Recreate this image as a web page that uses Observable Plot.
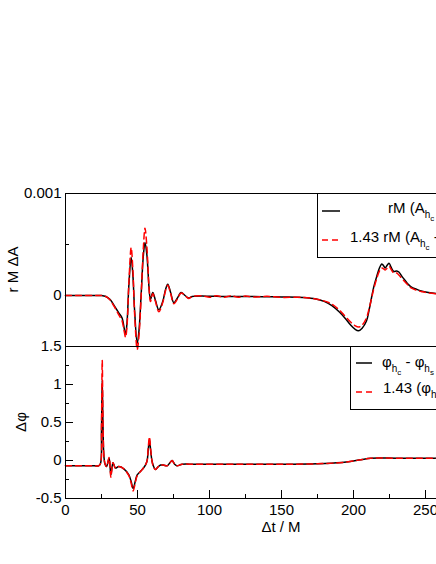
<!DOCTYPE html>
<html>
<head>
<meta charset="utf-8">
<script src="https://cdn.jsdelivr.net/npm/d3@7"></script>
<script src="https://cdn.jsdelivr.net/npm/@observablehq/plot@0.6"></script>
<style>
html, body { margin: 0; padding: 0; background: #fff; overflow: hidden; width: 436px; height: 564px; }
#chart { position: relative; width: 436px; height: 564px; overflow: hidden; }
#chart svg { position: absolute; left: 0; }
</style>
</head>
<body>
<div id="chart"></div>
<script>
// ---------- data ----------
// top panel: amplitude difference, values in units of 1e-4
const ampUnit = 1e-4;
const tA = [0,10,20,25,28,31,34.7,37,39.3,40.5,41.7,42.8,44,45.6,46.8,48,49.8,51,52.5,54,55.2,56.5,58,59,60.6,62.5,64.8,67.5,69.5,71,73,75.2,77.5,80.3,83,85.5,88,95,100,105,110,115,120,125,130,140,150,165,174,180,185,190,194,198,201,203.5,206,209,211,214,216,218,219.7,221,222,223.5,224.8,226,228,230,231.5,234,236,238,240,244,247,252,258,265,280,300];
const ampBlack = [0,0,0,0,-0.1,-0.4,-1.2,-1.7,-2.2,-3.0,-3.85,-2.5,1.0,3.75,2.0,-1.5,-4.7,-3.5,0.0,3.8,5.2,4.0,0.8,-0.4,0.3,-0.5,-1.4,-0.6,0.6,1.1,0.3,-0.7,-0.3,0.3,0,-0.25,-0.1,-0.05,-0.08,-0.08,-0.1,-0.1,-0.1,-0.1,-0.1,-0.12,-0.15,-0.2,-0.35,-0.6,-1.0,-1.6,-2.2,-2.9,-3.3,-3.45,-3.2,-2.5,-1.3,0.8,1.8,2.7,3.1,2.9,2.7,3.0,3.15,2.8,2.35,2.4,2.3,1.8,1.45,1.1,0.85,0.6,0.45,0.3,0.18,0.1,0.05,0];
const ampRed = [0,0,0,0,-0.1,-0.45,-1.3,-1.9,-2.5,-3.3,-4.1,-2.8,1.2,4.7,2.5,-1.8,-5.3,-4.0,-0.2,4.5,6.6,4.8,0.8,-0.6,0.2,-0.6,-1.6,-0.7,0.5,1.0,0.2,-0.8,-0.4,0.25,0,-0.3,-0.1,-0.02,-0.18,-0.02,-0.18,-0.03,-0.17,-0.05,-0.15,-0.08,-0.18,-0.18,-0.35,-0.55,-0.85,-1.4,-2.0,-2.6,-2.95,-3.1,-2.9,-2.2,-1.2,0.6,1.6,2.4,2.7,2.6,2.5,2.7,2.85,2.6,2.2,2.2,2.0,1.6,1.3,1.0,0.75,0.5,0.4,0.25,0.15,0.08,0.03,0];

// bottom panel: phase difference
const tP = [0,10,20,23,24.3,25,25.5,26,26.7,27.5,28.5,30.3,31.5,33,34.7,37,40.5,44,45.5,47,48.5,49.8,53.2,55.5,56.7,57.5,58.3,59.2,60,61,62.5,64,66,68,70.6,72.5,74,75.8,77.5,81,90,120,150,180,195,205,212,230,260,300];
const phiBlack = [-0.07,-0.07,-0.07,-0.07,-0.04,0.4,1.06,0.5,0.05,-0.05,-0.08,0.03,-0.19,-0.03,-0.1,-0.08,-0.11,-0.19,-0.27,-0.37,-0.27,-0.19,-0.12,-0.06,0.0,0.15,0.27,0.12,0.0,-0.07,-0.12,-0.09,-0.06,-0.06,-0.07,-0.03,0.0,-0.05,-0.07,-0.05,-0.05,-0.05,-0.05,-0.04,-0.02,0.01,0.03,0.03,0.03,0.03];
const phiRed = [-0.07,-0.07,-0.07,-0.07,-0.04,0.5,1.32,0.6,0.05,-0.05,-0.08,0.04,-0.22,-0.03,-0.1,-0.08,-0.11,-0.2,-0.29,-0.40,-0.29,-0.2,-0.12,-0.06,0.0,0.18,0.31,0.14,0.0,-0.08,-0.12,-0.09,-0.06,-0.06,-0.07,-0.03,0.0,-0.05,-0.07,-0.05,-0.05,-0.05,-0.05,-0.04,-0.02,0.01,0.03,0.03,0.03,0.03];

// ticks
const xMajor = [0,50,100,150,200,250,300];
const xMinor = [25,75,125,175,225,275];
const ampMajor = [0, 0.001];
const ampMinor = [-0.0005, 0.0005];
const phiMajor = [-0.5, 0, 0.5, 1, 1.5];
const phiMinor = [-0.25, 0.25, 0.75, 1.25];

// labels
const ampLabel = "r M ΔA";
const phiLabel = "Δφ";
const xLabel = "Δt / M";
const ampLegend = [
  [["rM (A",0],["h",1],["c",2],[" - A",0],["h",1],["s",2],[")",0]],
  [["1.43 rM (A",0],["h",1],["c",2],[" - A",0],["h",1],["s",2],[")",0]]
];
const phiLegend = [
  [["φ",0],["h",1],["c",2],[" - φ",0],["h",1],["s",2]],
  [["1.43 (φ",0],["h",1],["c",2],[" - φ",0],["h",1],["s",2],[")",0]]
];

// ---------- build ----------
const FONT = '"Liberation Sans", Arial, Helvetica, sans-serif';
const ampBlackData = tA.map((t, i) => ({t, v: ampBlack[i] * ampUnit}));
const ampRedData = tA.map((t, i) => ({t, v: ampRed[i] * ampUnit}));
const phiBlackData = tP.map((t, i) => ({t, v: phiBlack[i]}));
const phiRedData = tP.map((t, i) => ({t, v: phiRed[i]}));

const W = 520, ML = 65, MR = 23;
const frameW = W - ML - MR;
const fmt = d => String(d);
const blackLine = {x: "t", y: "v", stroke: "black", strokeWidth: 1.5, curve: "catmull-rom"};
const redLine = {x: "t", y: "v", stroke: "#ff0000", strokeWidth: 1.5, strokeDasharray: "6,4", curve: "catmull-rom"};
const style = {background: "transparent", fontFamily: FONT, fontSize: "15px", maxWidth: "none", overflow: "visible", color: "black"};

const topH = 346, topMT = 193;
const topPlot = Plot.plot({
  width: W, height: topH,
  marginTop: topMT, marginBottom: 0, marginLeft: ML, marginRight: MR,
  x: {domain: [0, 300], label: null, axis: null},
  y: {domain: [-0.0005, 0.001], label: null},
  style,
  marks: [
    Plot.tickY(ampMajor, {y: d => d, stroke: "black", insetRight: frameW - 8}),
    Plot.tickY(ampMinor, {y: d => d, stroke: "black", insetRight: frameW - 4}),
    Plot.axisY({ticks: ampMajor, tickSize: 0, tickPadding: 4, tickFormat: fmt, label: null}),
    Plot.line(ampBlackData, blackLine),
    Plot.line(ampRedData, redLine),
    Plot.frame({stroke: "black"})
  ]
});

const botTop = 336, botH = 564 - botTop, botMT = 10, botMB = 66;
const frameH = botH - botMT - botMB;
const botPlot = Plot.plot({
  width: W, height: botH,
  marginTop: botMT, marginBottom: botMB, marginLeft: ML, marginRight: MR,
  x: {domain: [0, 300], label: null},
  y: {domain: [-0.5, 1.5], label: null},
  style,
  marks: [
    Plot.tickY(phiMajor, {y: d => d, stroke: "black", insetRight: frameW - 8}),
    Plot.tickY(phiMinor, {y: d => d, stroke: "black", insetRight: frameW - 4}),
    Plot.tickX(xMajor, {x: d => d, stroke: "black", insetTop: frameH - 8}),
    Plot.tickX(xMinor, {x: d => d, stroke: "black", insetTop: frameH - 4}),
    Plot.axisY({ticks: phiMajor, tickSize: 0, tickPadding: 4, tickFormat: fmt, label: null}),
    Plot.axisX({ticks: xMajor, tickSize: 0, tickPadding: 6, tickFormat: fmt, label: null}),
    Plot.line(phiBlackData, blackLine),
    Plot.line(phiRedData, redLine),
    Plot.frame({stroke: "black"})
  ]
});

const chart = document.getElementById("chart");
topPlot.style.top = "0px";
botPlot.style.top = botTop + "px";
chart.appendChild(topPlot);
chart.appendChild(botPlot);

function rich(textSel, segs) {
  const off = [0, 5, 8], size = [15, 10, 8];
  let prev = 0;
  for (const [s, lvl] of segs) {
    textSel.append("tspan").attr("dy", off[lvl] - off[prev]).attr("font-size", size[lvl]).text(s);
    prev = lvl;
  }
}

function legend(svg, box, rows) {
  const g = d3.select(svg).append("g").attr("font-family", FONT).attr("font-size", 15)
    .attr("text-anchor", "start").style("white-space", "pre");
  g.append("rect").attr("x", box.x + 0.5).attr("y", box.y + 0.5).attr("width", box.w).attr("height", box.h)
    .attr("fill", "white").attr("stroke", "black");
  rows.forEach(r => {
    g.append("line").attr("x1", r.lx1).attr("x2", r.lx2).attr("y1", r.ly).attr("y2", r.ly)
      .attr("stroke", r.color).attr("stroke-width", 1.5).attr("stroke-dasharray", r.dash || null);
    const t = g.append("text").attr("x", r.tx).attr("y", r.ty).attr("fill", "black")
      .attr("text-anchor", "start").attr("xml:space", "preserve");
    rich(t, r.segs);
  });
  return g;
}

legend(topPlot, {x: 317, y: 193, w: 200, h: 64}, [
  {lx1: 322, lx2: 340, ly: 211, color: "black", tx: 388, ty: 213, segs: ampLegend[0]},
  {lx1: 322, lx2: 340, ly: 240, color: "#ff0000", dash: "6,4", tx: 350, ty: 242, segs: ampLegend[1]}
]);
legend(botPlot, {x: 350, y: botMT, w: 170, h: 63}, [
  {lx1: 356, lx2: 372, ly: 27, color: "black", tx: 382, ty: 31, segs: phiLegend[0]},
  {lx1: 356, lx2: 372, ly: 56, color: "#ff0000", dash: "6,4", tx: 383, ty: 57, segs: phiLegend[1]}
]);

// axis titles
d3.select(topPlot).append("text")
  .attr("transform", `translate(18,${(topMT + topH) / 2}) rotate(-90)`)
  .attr("text-anchor", "middle").attr("font-family", FONT).attr("font-size", 15).attr("fill", "black")
  .style("white-space", "pre").text(ampLabel);
d3.select(botPlot).append("text")
  .attr("transform", `translate(26,${botMT + frameH / 2}) rotate(-90)`)
  .attr("text-anchor", "middle").attr("font-family", FONT).attr("font-size", 15).attr("fill", "black")
  .text(phiLabel);
d3.select(botPlot).append("text")
  .attr("x", ML + frameW / 2).attr("y", 196)
  .attr("text-anchor", "middle").attr("font-family", FONT).attr("font-size", 15).attr("fill", "black")
  .style("white-space", "pre").text(xLabel);
</script>
</body>
</html>
